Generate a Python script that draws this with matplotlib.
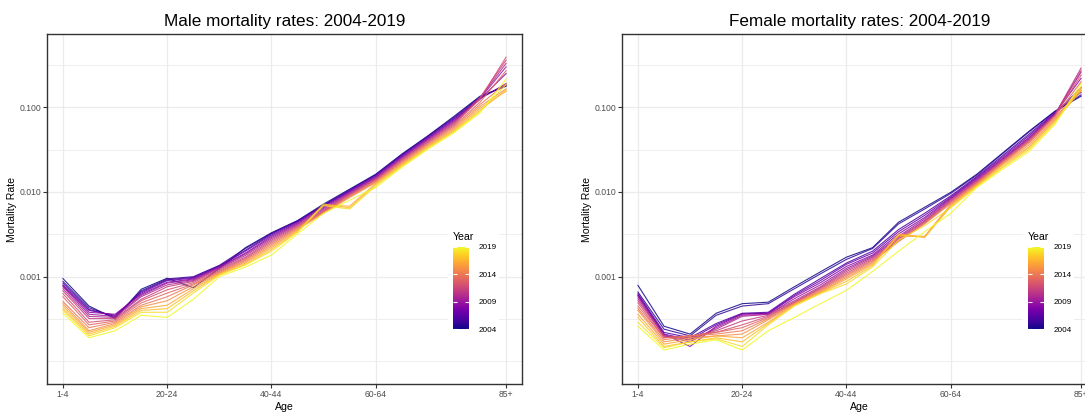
import matplotlib
matplotlib.use('Agg')
import matplotlib.pyplot as plt
import matplotlib.colorbar as mcolorbar
from matplotlib.colors import Normalize
import numpy as np

plt.rcParams['font.family'] = ['Liberation Sans', 'DejaVu Sans']

age_groups = ['1-4', '5-9', '10-14', '15-19', '20-24', '25-29', '30-34', '35-39',
              '40-44', '45-49', '50-54', '55-59', '60-64', '65-69', '70-74',
              '75-79', '80-84', '85+']
tick_groups = ['1-4', '20-24', '40-44', '60-64', '85+']
years = list(range(2004, 2020))
legend_years = [2004, 2009, 2014, 2019]

# deaths per 100,000; one row per age group, columns are 2004..2019
male_by_age = [
    [95, 88, 84, 80, 78, 76, 72, 68, 63, 58, 51, 48, 45, 42, 40, 37],
    [45, 43, 41, 40, 38, 36, 34, 32, 29, 27, 25, 23, 22, 21, 20, 19],
    [32, 33, 34, 35, 36, 34, 33, 32, 31, 30, 29, 28, 27, 26, 25, 23],
    [71, 68, 66, 64, 62, 60, 58, 54, 52, 49, 46, 44, 42, 40, 38, 35],
    [96, 94, 92, 90, 86, 84, 80, 76, 70, 64, 58, 52, 46, 42, 38, 33],
    [74, 100, 98, 96, 94, 92, 90, 88, 85, 82, 80, 76, 72, 68, 64, 54],
    [125, 136, 134, 132, 130, 128, 125, 122, 118, 115, 112, 110, 108, 106, 104, 100],
    [220, 215, 205, 200, 190, 185, 178, 170, 165, 160, 155, 150, 145, 140, 138, 130],
    [330, 325, 320, 310, 300, 290, 280, 270, 260, 250, 240, 230, 220, 210, 200, 180],
    [460, 455, 450, 440, 430, 420, 410, 400, 390, 380, 370, 360, 350, 340, 335, 320],
    [720, 700, 690, 680, 660, 640, 620, 600, 590, 580, 570, 560, 700, 720, 690, 560],
    [1080, 1060, 1040, 1020, 1000, 980, 960, 940, 920, 900, 880, 860, 680, 650, 630, 800],
    [1620, 1600, 1570, 1540, 1500, 1470, 1440, 1410, 1380, 1350, 1320, 1290, 1260, 1220, 1180, 1130],
    [2800, 2750, 2700, 2640, 2580, 2520, 2460, 2400, 2340, 2280, 2220, 2160, 2100, 2050, 2000, 1950],
    [4600, 4550, 4450, 4350, 4250, 4150, 4050, 3950, 3850, 3750, 3650, 3550, 3450, 3350, 3280, 3200],
    [7800, 7600, 7400, 7200, 7000, 6800, 6600, 6400, 6200, 6000, 5800, 5600, 5400, 5250, 5100, 5000],
    [13500, 13200, 12900, 12600, 12400, 12600, 12800, 13000, 12500, 11500, 10800, 10200, 9700, 9200, 8900, 8600],
    [17700, 18000, 18500, 19000, 25000, 30000, 33000, 36000, 39000, 27000, 19000, 16500, 15500, 16000, 18500, 21500],
]

female_by_age = [
    [79, 66, 63, 61, 60, 58, 55, 52, 49, 45, 42, 40, 36, 33, 29, 26],
    [26, 24, 22, 21, 21, 20, 20, 20, 19, 19, 18, 17, 16, 15, 14.5, 13.6],
    [21, 20, 19, 18, 15, 17, 18, 19, 20, 20, 20, 19, 18, 17, 17, 16],
    [37, 35, 28, 27, 26, 25, 24, 23, 22, 22, 21, 20, 20, 19, 18.5, 18],
    [48, 45, 37, 36.5, 36, 35, 34, 30, 27, 25, 23, 21, 19, 17, 15, 13.6],
    [50, 48, 38, 37, 37, 36, 36, 35, 34, 33, 32, 31, 29, 28, 27, 23],
    [76, 72, 62, 60, 58, 55, 52, 50, 50, 49, 48, 47, 47, 46, 45, 33],
    [114, 108, 95, 90, 85, 80, 76, 74, 72, 70, 68, 66, 65, 64, 63, 48],
    [170, 160, 145, 140, 132, 125, 120, 115, 110, 106, 102, 98, 94, 88, 82, 69],
    [220, 215, 200, 190, 180, 175, 170, 165, 160, 155, 150, 145, 140, 135, 130, 115],
    [440, 420, 360, 340, 320, 300, 290, 280, 270, 265, 260, 300, 320, 310, 270, 200],
    [660, 630, 560, 530, 500, 480, 460, 450, 440, 430, 420, 300, 290, 295, 400, 340],
    [990, 960, 900, 870, 850, 830, 810, 790, 770, 750, 730, 710, 690, 670, 650, 560],
    [1620, 1580, 1520, 1480, 1440, 1400, 1370, 1340, 1310, 1280, 1250, 1220, 1200, 1180, 1150, 1130],
    [2900, 2850, 2700, 2600, 2500, 2450, 2400, 2350, 2300, 2250, 2200, 2150, 2100, 2000, 1950, 1860],
    [5200, 5100, 4800, 4600, 4400, 4300, 4200, 4100, 4000, 3900, 3800, 3600, 3400, 3300, 3150, 3000],
    [9000, 8900, 8700, 8500, 8400, 8300, 8200, 8100, 8000, 7800, 7500, 7200, 7000, 6800, 6500, 6300],
    [13500, 14000, 15000, 17000, 22000, 26000, 29000, 27000, 24000, 20000, 17000, 16000, 15500, 16500, 17500, 19000],
]

W, H = 1085, 413
GRID = '#EBEBEB'
BORDER = '#333333'
TICKTXT = '#4D4D4D'


def px_rect(x0, y0, x1, y1):
    # pixel box (top-left origin) -> figure fraction rect
    return [x0 / W, 1 - y1 / H, (x1 - x0) / W, (y1 - y0) / H]


def draw_panel(fig, left, rates_by_age, title):
    rates = np.array(rates_by_age, dtype=float).T / 1e5
    ax = fig.add_axes(px_rect(left, 34, left + 474.4, 384))
    xpos = np.arange(len(age_groups))
    norm = Normalize(min(years), max(years))
    cmap = plt.get_cmap('plasma')

    # grid: majors at the labelled breaks, minors halfway between decades
    for lv in [-4, -3.5, -2.5, -1.5, -0.5]:
        ax.axhline(10 ** lv, color=GRID, lw=0.6, zorder=0)
    for lv in [-3, -2, -1]:
        ax.axhline(10 ** lv, color=GRID, lw=0.9, zorder=0)
    for g in tick_groups:
        ax.axvline(age_groups.index(g), color=GRID, lw=0.9, zorder=0)

    for yr, row in zip(years, rates):
        ax.plot(xpos, row, color=cmap(norm(yr)), lw=0.8, alpha=0.85, zorder=2)

    ax.set_yscale('log')
    ax.set_ylim(10 ** -4.267, 10 ** -0.135)
    ax.set_xlim(-0.6, len(age_groups) - 0.4)
    ax.set_yticks([0.001, 0.01, 0.1])
    ax.set_yticklabels(['0.001', '0.010', '0.100'])
    ax.yaxis.set_minor_locator(matplotlib.ticker.NullLocator())
    ax.set_xticks([age_groups.index(g) for g in tick_groups])
    ax.set_xticklabels(tick_groups)
    ax.tick_params(length=3, width=0.8, color=BORDER, labelcolor=TICKTXT,
                   labelsize=6.2, pad=1.2)
    for sp in ax.spines.values():
        sp.set_color(BORDER)
        sp.set_linewidth(1.0)

    ax.set_xlabel('Age', fontsize=7.6, va='center')
    ax.xaxis.set_label_coords(0.5, (384 - 407) / 350)
    ax.set_ylabel('Mortality Rate', fontsize=7.6, va='center')
    ax.yaxis.set_label_coords((12 - 47.3) / 474.4, 0.5)
    ax.set_title(title, fontsize=12.3, pad=6)

    # colour legend drawn inside the panel on a white box
    off = left - 47.3
    box = fig.add_axes(px_rect(off + 448, 228, off + 499, 340))
    box.set_facecolor('white')
    box.set_xticks([])
    box.set_yticks([])
    for sp in box.spines.values():
        sp.set_visible(False)
    box.text(5 / 51, 1 - 9 / 112, 'Year', fontsize=7.6, va='center', ha='left',
             transform=box.transAxes)

    cax = fig.add_axes(px_rect(off + 453.3, 246.7, off + 469.3, 329))
    cb = mcolorbar.ColorbarBase(cax, cmap=cmap, norm=norm, orientation='vertical')
    cb.outline.set_visible(False)
    cb.set_ticks(legend_years)
    cb.set_ticklabels([str(y) for y in legend_years])
    cax.tick_params(axis='y', left=True, right=True, direction='in', length=3,
                    width=0.8, color='white', labelcolor='black', labelsize=5.9,
                    pad=6.5, labelleft=False, labelright=True)
    return ax


fig = plt.figure(figsize=(W / 100, H / 100), dpi=100)
draw_panel(fig, 47.3, male_by_age, 'Male mortality rates: 2004-2019')
draw_panel(fig, 622.3, female_by_age, 'Female mortality rates: 2004-2019')
fig.savefig('out.png', dpi=100)
